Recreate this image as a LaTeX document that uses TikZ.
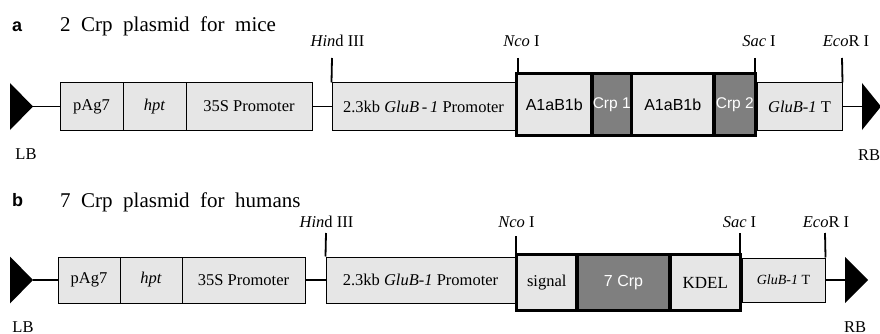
\documentclass[tikz,border=0pt]{standalone}
\usepackage{fontspec}
\setmainfont{Liberation Serif}
\newfontfamily\arialf{Liberation Sans}
\definecolor{boxgray}{HTML}{E6E6E6}
\definecolor{crpgray}{HTML}{7F7F7F}
\newcommand\mywidespace{\spaceskip=0.5em plus 0.1em\relax}
\begin{document}
\begin{tikzpicture}[x=1pt,y=-1pt,
  thin box/.style={draw=black, line width=1pt, fill=boxgray, rectangle, inner sep=0pt,
     font=\fontsize{16.5}{18}\selectfont},
  thick cell/.style={draw=black, line width=3.4pt, fill=boxgray, rectangle, inner sep=0pt,
     font=\fontsize{16.5}{18}\selectfont},
  crp cell/.style={thick cell, fill=crpgray, text=white, font=\arialf\fontsize{15.5}{17}\selectfont},
  conn/.style={line width=1.8pt},
  site/.style={anchor=base, font=\fontsize{16.5}{18}\selectfont, inner sep=0pt},
  border/.style={anchor=base, font=\fontsize{16.5}{18}\selectfont, inner sep=0pt},
  paneltag/.style={anchor=base west, font=\arialf\bfseries\fontsize{18}{20}\selectfont, inner sep=0pt},
  title/.style={anchor=base west, font=\fontsize{21}{24}\selectfont, inner sep=0pt}
]
\useasboundingbox (0,0) rectangle (880,334);

% ---------------- panel a ----------------
\node[paneltag] (taga) at (12,32) {a};
\node[title] (titlea) at (60,32) {\mywidespace 2 Crp plasmid for mice};

\coordinate (lbtipa) at (33,106.5);
\fill (10,83) -- (lbtipa) -- (10,130) -- cycle;
\node[border] (lba) at (26,159) {LB};

\node[thin box, minimum width=63, minimum height=47] (pAga) at (91.5,106.5) {pAg7};
\node[thin box, minimum width=63, minimum height=47] (hpta) at (154.5,106.5) {\itshape hpt};
\node[thin box, minimum width=126, minimum height=47] (s35a) at (249,106.5) {35S Promoter};
\node[thin box, minimum width=183, minimum height=47] (glua) at (423.5,106.5) {2.3kb \textit{GluB\,-\,1} Promoter};

\node[thick cell, minimum width=75.5, minimum height=62] (a1a) at (554.25,104.5) {\arialf\fontsize{16}{18}\selectfont A1aB1b};
\node[crp cell, minimum width=39.5, minimum height=62] (crp1a) at (611.75,104.5) {Crp 1};
\node[thick cell, minimum width=82.5, minimum height=62] (a1b) at (672.75,104.5) {\arialf\fontsize{16}{18}\selectfont A1aB1b};
\node[crp cell, minimum width=41.5, minimum height=62] (crp2a) at (734.75,104.5) {Crp 2};

\node[thin box, minimum width=85, minimum height=47] (terma) at (799.5,106.5) {\textit{GluB-1} T};

\coordinate (rbbasea) at (862,106.5);
\fill (862,83) -- (881,106.5) -- (862,130) -- cycle;
\node[border] (rba) at (869,160) {RB};

\draw[conn] (lbtipa) -- (pAga.west);
\draw[conn] (s35a.east) -- (glua.west);
\draw[conn] (terma.east) -- (rbbasea);

\node[site] (hinda) at (337.5,47) {\textit{Hin}d III};
\node[site] (ncoa) at (521.5,47) {\textit{Nco} I};
\node[site] (saca) at (759,47) {\textit{Sac} I};
\node[site] (ecoa) at (846,47) {\textit{Eco}R I};
\coordinate (hindta) at (332,58);
\coordinate (ncota) at (518,58);
\coordinate (sacta) at (755,58);
\coordinate (ecota) at (842,58);
\draw[conn] (hindta) -- (glua.north west);
\draw[conn] (ncota) -- (ncota |- a1a.north);
\draw[conn] (sacta) -- (sacta |- crp2a.north);
\draw[conn] (ecota) -- (terma.north east);

% ---------------- panel b ----------------
\node[paneltag] (tagb) at (12,206) {b};
\node[title] (titleb) at (60,207) {\mywidespace 7 Crp plasmid for humans};

\coordinate (lbtipb) at (33,280);
\fill (10,256.5) -- (lbtipb) -- (10,303.5) -- cycle;
\node[border] (lbb) at (23,332) {LB};

\node[thin box, minimum width=62, minimum height=46] (pAgb) at (89,280) {pAg7};
\node[thin box, minimum width=62, minimum height=46] (hptb) at (151,280) {\itshape hpt};
\node[thin box, minimum width=123, minimum height=46] (s35b) at (243.5,280) {35S Promoter};
\node[thin box, minimum width=189, minimum height=46] (glub) at (420.5,280) {2.3kb \textit{GluB-1} Promoter};

\node[thick cell, minimum width=60.5, minimum height=56] (sigb) at (546.75,282.5) {signal};
\node[crp cell, minimum width=93, minimum height=56, font=\arialf\fontsize{16}{18}\selectfont] (crp7b) at (623.5,282.5) {7 Crp};
\node[thick cell, minimum width=70.5, minimum height=56, font=\fontsize{17}{18}\selectfont] (kdelb) at (705.25,282.5) {KDEL};

\node[thin box, minimum width=83, minimum height=44] (termb) at (783.5,280) {\fontsize{14}{16}\selectfont\textit{GluB-1} T};

\coordinate (rbbaseb) at (845,280);
\fill (845,257) -- (868,280) -- (845,303) -- cycle;
\node[border] (rbb) at (855,332) {RB};

\draw[conn] (lbtipb) -- (pAgb.west);
\draw[conn] (s35b.east) -- (glub.west);
\draw[conn] (termb.east) -- (rbbaseb);

\node[site] (hindb) at (326.5,227) {\textit{Hin}d III};
\node[site] (ncob) at (516.5,227) {\textit{Nco} I};
\node[site] (sacb) at (739.5,227) {\textit{Sac} I};
\node[site] (ecob) at (826,227) {\textit{Eco}R I};
\coordinate (hindtb) at (326,233);
\coordinate (ncotb) at (516,236);
\coordinate (sactb) at (740,233);
\coordinate (ecotb) at (825,233);
\draw[conn] (hindtb) -- (glub.north west);
\draw[conn] (ncotb) -- (ncotb |- sigb.north);
\draw[conn] (sactb) -- (sactb |- kdelb.north);
\draw[conn] (ecotb) -- (termb.north east);
\end{tikzpicture}
\end{document}
